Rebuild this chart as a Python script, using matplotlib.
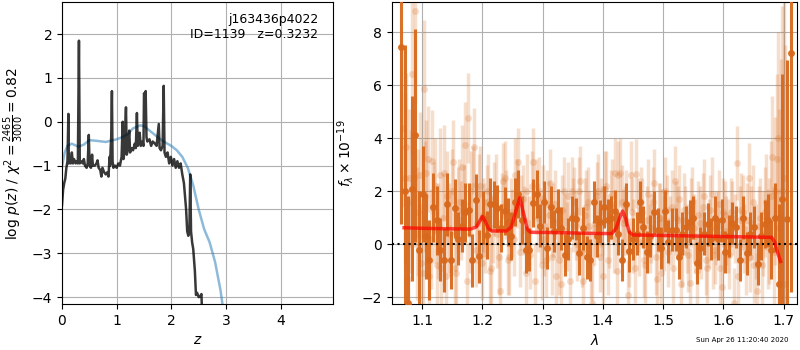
import numpy as np
import matplotlib
matplotlib.use("Agg")
import matplotlib.pyplot as plt

# ---------------- left panel: p(z) ----------------
pz_z = [0.00, 0.02, 0.04, 0.06, 0.08, 0.10, 0.117, 0.125, 0.14, 0.16,
        0.18, 0.20, 0.22, 0.25, 0.27, 0.29, 0.31, 0.325, 0.35, 0.38,
        0.40, 0.42, 0.45, 0.47, 0.49, 0.505, 0.53, 0.55, 0.565, 0.60,
        0.63, 0.65, 0.67, 0.70, 0.72, 0.74, 0.77, 0.80, 0.83, 0.85,
        0.87, 0.88, 0.89, 0.90, 0.913, 0.925, 0.94, 0.97, 1.00, 1.03,
        1.06, 1.09, 1.11, 1.125, 1.14, 1.17, 1.185, 1.20, 1.23, 1.245,
        1.27, 1.30, 1.33, 1.35, 1.37, 1.385, 1.40, 1.42, 1.44, 1.47,
        1.49, 1.50, 1.515, 1.53, 1.545, 1.56, 1.60, 1.63, 1.66, 1.70,
        1.73, 1.77, 1.785, 1.81, 1.84, 1.86, 1.875, 1.90, 1.93, 1.96,
        1.99, 2.02, 2.05, 2.08, 2.11, 2.14, 2.17, 2.20, 2.23, 2.25,
        2.27, 2.29, 2.31, 2.33, 2.345, 2.36, 2.38, 2.40, 2.43, 2.45,
        2.47, 2.50, 2.53, 2.55, 2.56, 2.58]
pz_logp = [-1.90, -1.55, -1.40, -1.30, -1.05, -0.90, 0.18, -0.95, -0.80, -0.95,
           -0.70, -0.95, -0.85, -0.95, -0.90, -0.95, 1.85, -0.95, -0.90, -0.95,
           -0.85, -1.00, -1.05, -0.95, -0.30, -1.00, -1.05, -0.75, -1.00, -1.00,
           -0.95, -0.88, -1.05, -1.10, -1.25, -1.05, -1.15, -1.20, -1.15, -1.25,
           -0.80, -1.00, -0.60, -0.35, 0.70, -0.90, -1.05, -1.00, -1.05, -0.95,
           -1.00, -0.80, 0.00, -0.85, -0.70, 0.33, -0.75, -0.65, -0.20, -0.70,
           -0.60, -0.65, -0.50, -0.60, 0.20, -0.55, -0.45, -0.25, -0.55, -0.45,
           -0.55, 0.65, 0.55, 0.70, -0.35, -0.45, -0.40, -0.55, -0.45, -0.50,
           -0.55, -0.05, -0.60, -0.65, -0.55, 0.82, -0.70, -0.80, -0.70, -0.95,
           -0.80, -1.00, -0.85, -1.05, -0.90, -1.05, -0.95, -1.20, -1.40, -1.70,
           -2.00, -2.50, -2.60, -2.50, -1.20, -2.50, -2.75, -2.90, -3.40, -3.95,
           -3.90, -4.00, -3.98, -3.93, -4.30, -4.40]

prior_z = [0.00, 0.05, 0.10, 0.18, 0.30, 0.40, 0.50, 0.60, 0.80, 0.90,
           1.00, 1.10, 1.20, 1.30, 1.43, 1.50, 1.60, 1.70, 1.80, 1.90,
           2.00, 2.10, 2.20, 2.30, 2.40, 2.50, 2.60, 2.70, 2.80, 2.90,
           2.95]
prior_logp = [-1.02, -0.70, -0.55, -0.50, -0.57, -0.52, -0.42, -0.43, -0.46, -0.43,
              -0.40, -0.35, -0.28, -0.15, -0.08, -0.10, -0.20, -0.30, -0.40, -0.48,
              -0.55, -0.65, -0.80, -1.05, -1.45, -2.00, -2.45, -2.75, -3.20, -3.85,
              -4.30]

label_name = "j163436p4022"
label_id = "ID=1139   z=0.3232"

# ---------------- right panel: spectrum ----------------
dark_wave = [1.065, 1.071, 1.077, 1.083, 1.089, 1.095, 1.101, 1.106, 1.112, 1.118,
             1.124, 1.130, 1.136, 1.142, 1.148, 1.154, 1.160, 1.166, 1.172, 1.177,
             1.183, 1.189, 1.195, 1.201, 1.207, 1.213, 1.219, 1.225, 1.231, 1.237,
             1.243, 1.248, 1.254, 1.260, 1.266, 1.272, 1.278, 1.284, 1.290, 1.296,
             1.302, 1.308, 1.314, 1.319, 1.325, 1.331, 1.337, 1.343, 1.349, 1.355,
             1.361, 1.367, 1.373, 1.379, 1.385, 1.390, 1.396, 1.402, 1.408, 1.414,
             1.420, 1.426, 1.432, 1.438, 1.444, 1.450, 1.456, 1.461, 1.467, 1.473,
             1.479, 1.485, 1.491, 1.497, 1.503, 1.509, 1.515, 1.521, 1.527, 1.532,
             1.538, 1.544, 1.550, 1.556, 1.562, 1.568, 1.574, 1.580, 1.586, 1.592,
             1.598, 1.603, 1.609, 1.615, 1.621, 1.627, 1.633, 1.639, 1.645, 1.651,
             1.657, 1.663, 1.669, 1.674, 1.680, 1.686, 1.692, 1.698, 1.705, 1.713]
dark_flux = [7.45, 2.0, -2.2, 2.1, 4.1, -0.2, 1.9, 0.3, -0.6, 1.4,
             0.9, -0.2, -0.6, 1.5, -0.6, 1.35, 0.2, 0.7, 1.2, 1.3,
             -0.6, 1.65, -0.45, 1.0, 0.35, 1.5, 1.5, 1.35, 0.6, 1.25,
             0.85, 0.3, 1.6, 1.9, 0.9, -0.2, -0.2, 1.55, 1.9, 0.7,
             1.6, -0.15, 1.4, 0.5, 1.3, 0.6, -0.4, 0.2, 1.0, 0.95,
             -0.35, 0.6, -0.5, -0.6, 1.6, 0.3, 0.85, 1.4, 0.9, 1.0,
             1.25, 0.4, -0.6, 1.5, -0.25, 0.2, 0.4, 1.6, 0.65, -0.3,
             0.3, 1.2, 0.55, -0.15, 1.25, 0.1, 0.55, 0.55, -0.5, 0.4,
             0.65, 0.85, 1.0, -0.7, -0.15, 0.4, 0.75, 0.2, 1.0, 0.2,
             0.9, -0.3, 0.3, 0.8, 0.65, -0.6, 1.0, -0.35, 0.4, 0.65,
             -0.75, 0.3, 0.75, 0.9, -0.2, 1.0, -1.5, 1.7, 0.95, 7.2]
dark_err = [6.7, 5.5, 4.0, 3.5, 4.0, 2.2, 1.8, 1.6, 1.5, 1.3,
            1.3, 1.2, 1.2, 1.2, 1.1, 1.1, 1.0, 1.0, 1.1, 1.0,
            1.0, 1.0, 1.0, 1.0, 0.9, 1.0, 0.9, 0.9, 0.9, 0.9,
            0.9, 0.9, 0.9, 0.9, 0.9, 0.9, 0.8, 0.9, 0.9, 0.8,
            0.8, 0.8, 0.8, 0.8, 0.8, 0.8, 0.8, 0.8, 0.8, 0.8,
            0.8, 0.8, 0.8, 0.8, 0.8, 0.8, 0.8, 0.8, 0.8, 0.8,
            0.8, 0.8, 0.8, 0.8, 0.8, 0.8, 0.8, 0.8, 0.8, 0.8,
            0.8, 0.8, 0.8, 0.8, 0.8, 0.8, 0.8, 0.8, 0.8, 0.8,
            0.8, 0.8, 0.8, 0.8, 0.8, 0.8, 0.8, 0.8, 0.8, 0.8,
            0.8, 0.8, 0.8, 0.8, 0.8, 0.8, 0.8, 0.8, 0.8, 0.8,
            0.8, 0.9, 0.9, 1.0, 1.1, 1.3, 3.0, 4.7, 6.0, 9.0]

light_wave = [1.068, 1.073, 1.078, 1.083, 1.088, 1.093, 1.098, 1.103, 1.107, 1.112,
              1.117, 1.122, 1.127, 1.132, 1.137, 1.142, 1.147, 1.152, 1.156, 1.161,
              1.166, 1.171, 1.176, 1.181, 1.186, 1.191, 1.196, 1.201, 1.205, 1.210,
              1.215, 1.220, 1.225, 1.230, 1.235, 1.240, 1.245, 1.250, 1.254, 1.259,
              1.264, 1.269, 1.274, 1.279, 1.284, 1.289, 1.294, 1.299, 1.303, 1.308,
              1.313, 1.318, 1.323, 1.328, 1.333, 1.338, 1.343, 1.348, 1.352, 1.357,
              1.362, 1.367, 1.372, 1.377, 1.382, 1.387, 1.392, 1.397, 1.401, 1.406,
              1.411, 1.416, 1.421, 1.426, 1.431, 1.436, 1.441, 1.446, 1.450, 1.455,
              1.460, 1.465, 1.470, 1.475, 1.480, 1.485, 1.490, 1.495, 1.499, 1.504,
              1.509, 1.514, 1.519, 1.524, 1.529, 1.534, 1.539, 1.544, 1.548, 1.553,
              1.558, 1.563, 1.568, 1.573, 1.578, 1.583, 1.588, 1.593, 1.597, 1.602,
              1.607, 1.612, 1.617, 1.622, 1.627, 1.632, 1.637, 1.642, 1.646, 1.651,
              1.656, 1.661, 1.666, 1.671, 1.676, 1.681, 1.686, 1.691, 1.695, 1.700]
light_flux = [4.4, 3.65, 2.5, 6.4, 8.8, 1.2, -0.7, 5.85, 2.7, -1.2,
              3.15, 2.2, 0.5, -0.9, 2.7, 1.8, 0.4, 3.1, -1.1, 1.6,
              2.9, 3.75, 4.75, 2.0, 3.65, 0.8, 2.2, 1.1, 0.3, 2.0,
              -0.9, 1.7, 0.4, -1.75, 2.4, 1.5, -0.5, 0.8, 2.6, 3.1,
              1.2, 0.9, 2.0, -0.4, 3.1, 1.8, 2.0, -0.8, 0.2, 1.5,
              2.3, 0.9, -1.2, -0.6, 1.3, 0.5, 1.8, 2.0, 1.6, 0.0,
              2.4, -1.4, 1.4, 0.7, -2.2, 0.8, 2.0, 1.2, -1.2, 2.2,
              0.5, 1.9, 2.7, 2.6, 1.6, 0.9, -1.9, 2.6, 0.3, 2.65,
              0.1, 1.2, -0.8, 1.9, 0.6, 2.3, -1.3, 1.0, 0.8, 2.0,
              -0.3, 1.4, 2.4, 0.9, -1.5, 1.3, 0.2, -1.45, 1.6, 0.3,
              1.1, 0.0, 1.8, -0.9, 1.3, -0.4, 0.6, 1.5, -1.6, 1.1,
              0.3, 1.2, -2.2, 3.05, 0.9, 1.2, -0.6, 2.5, 0.8, -0.8,
              -1.75, 1.0, 0.4, 1.6, 0.5, 3.3, 2.0, 4.0, 1.0, 2.5]
light_err = [3.0, 2.8, 2.6, 3.0, 3.5, 2.4, 2.2, 2.6, 2.0, 2.0,
             1.9, 1.8, 1.8, 1.7, 1.8, 1.7, 1.6, 1.6, 1.6, 1.6,
             1.6, 1.6, 1.7, 1.5, 1.5, 1.5, 1.5, 1.4, 1.4, 1.4,
             1.4, 1.4, 1.3, 1.4, 1.4, 1.3, 1.4, 1.3, 1.4, 1.3,
             1.4, 1.3, 1.4, 1.3, 1.3, 1.4, 1.3, 1.3, 1.4, 1.3,
             1.3, 1.4, 1.3, 1.3, 1.3, 1.4, 1.3, 1.3, 1.3, 1.4,
             1.3, 1.3, 1.4, 1.3, 1.3, 1.3, 1.4, 1.3, 1.3, 1.3,
             1.4, 1.3, 1.3, 1.3, 1.4, 1.3, 1.3, 1.3, 1.4, 1.3,
             1.3, 1.3, 1.4, 1.3, 1.3, 1.3, 1.4, 1.3, 1.3, 1.3,
             1.3, 1.4, 1.3, 1.3, 1.3, 1.4, 1.3, 1.3, 1.3, 1.4,
             1.3, 1.3, 1.4, 1.3, 1.3, 1.3, 1.4, 1.3, 1.3, 1.3,
             1.4, 1.3, 1.3, 1.4, 1.3, 1.4, 1.3, 1.3, 1.4, 1.4,
             1.4, 1.5, 1.6, 1.8, 2.0, 2.3, 2.8, 4.0, 6.0, 8.0]

light2_wave = [1.071, 1.076, 1.081, 1.086, 1.091, 1.096, 1.101, 1.105, 1.110, 1.115,
               1.120, 1.125, 1.130, 1.135, 1.140, 1.145, 1.150, 1.154, 1.159, 1.164,
               1.169, 1.174, 1.179, 1.184, 1.189, 1.194, 1.199, 1.203, 1.208, 1.213,
               1.218, 1.223, 1.228, 1.233, 1.238, 1.243, 1.248, 1.252, 1.257, 1.262,
               1.267, 1.272, 1.277, 1.282, 1.287, 1.292, 1.297, 1.301, 1.306, 1.311,
               1.316, 1.321, 1.326, 1.331, 1.336, 1.341, 1.346, 1.350, 1.355, 1.360,
               1.365, 1.370, 1.375, 1.380, 1.385, 1.390, 1.395, 1.399, 1.404, 1.409,
               1.414, 1.419, 1.424, 1.429, 1.434, 1.439, 1.444, 1.448, 1.453, 1.458,
               1.463, 1.468, 1.473, 1.478, 1.483, 1.488, 1.493, 1.497, 1.502, 1.507,
               1.512, 1.517, 1.522, 1.527, 1.532, 1.537, 1.542, 1.546, 1.551, 1.556,
               1.561, 1.566, 1.571, 1.576, 1.581, 1.586, 1.591, 1.595, 1.600, 1.605,
               1.610, 1.615, 1.620, 1.625, 1.630, 1.635, 1.640, 1.644, 1.649, 1.654,
               1.659, 1.664, 1.669, 1.674, 1.679, 1.684, 1.689, 1.693, 1.698, 1.703]
light2_flux = [2.5, -1.3, 1.6, 2.5, 0.4, 2.6, -1.1, 1.8, 3.2, 0.2,
               1.2, -0.8, 2.6, 1.0, -1.2, 0.6, 2.0, -0.9, 1.3, 0.9,
               1.5, -1.4, 0.4, 2.2, -0.2, 1.9, -0.7, 0.9, 1.6, -1.0,
               0.6, 2.0, -0.5, 1.4, 2.5, -0.6, 1.2, 0.2, 1.9, -0.3,
               1.7, -1.1, 0.5, 2.2, -1.4, 1.0, 0.6, 1.7, -0.6, 1.1,
               -0.5, 1.5, 0.8, -1.5, 2.0, 0.3, -1.4, 1.1, 0.7, 2.0,
               -0.3, 1.1, 1.6, -0.8, 0.6, 1.8, -0.5, 0.9, 2.1, -0.6,
               1.5, 0.2, -1.0, 2.7, 0.8, 1.4, -0.3, 1.2, -0.9, 1.1,
               1.6, -0.6, 0.9, 0.2, 1.6, -0.5, 1.0, -1.1, 0.4, 1.3,
               0.5, -0.9, 1.0, 1.7, -0.3, 0.9, -0.4, 1.2, 0.6, -1.0,
               0.8, 1.4, -0.6, 0.4, 1.9, -0.2, 0.7, -0.9, 1.2, 0.5,
               -0.4, 1.0, 0.6, -1.2, 1.3, 0.2, 0.9, -0.5, 1.6, 0.1,
               0.7, -0.8, 1.2, 0.2, 1.8, -0.3, 3.2, 0.6, 2.0, -1.5]
light2_err = [3.2, 2.9, 2.7, 2.6, 2.5, 2.4, 2.2, 2.1, 2.0, 1.9,
              1.9, 1.8, 1.8, 1.7, 1.7, 1.7, 1.6, 1.6, 1.6, 1.5,
              1.5, 1.5, 1.5, 1.5, 1.4, 1.5, 1.4, 1.4, 1.4, 1.4,
              1.3, 1.4, 1.4, 1.3, 1.4, 1.3, 1.3, 1.4, 1.3, 1.3,
              1.3, 1.4, 1.3, 1.3, 1.4, 1.3, 1.3, 1.3, 1.4, 1.3,
              1.4, 1.3, 1.3, 1.4, 1.3, 1.3, 1.3, 1.4, 1.3, 1.3,
              1.3, 1.4, 1.3, 1.3, 1.4, 1.3, 1.3, 1.3, 1.4, 1.3,
              1.3, 1.3, 1.4, 1.3, 1.3, 1.4, 1.3, 1.3, 1.3, 1.4,
              1.3, 1.4, 1.3, 1.3, 1.3, 1.4, 1.3, 1.3, 1.4, 1.3,
              1.3, 1.3, 1.4, 1.3, 1.3, 1.3, 1.4, 1.3, 1.3, 1.3,
              1.4, 1.3, 1.3, 1.3, 1.4, 1.3, 1.3, 1.4, 1.3, 1.3,
              1.3, 1.4, 1.3, 1.3, 1.4, 1.3, 1.4, 1.3, 1.4, 1.4,
              1.5, 1.5, 1.7, 1.9, 2.1, 2.5, 3.2, 4.5, 7.0, 9.0]

model_wave = [1.070, 1.100, 1.150, 1.180, 1.190, 1.195, 1.200, 1.205, 1.210, 1.215,
              1.240, 1.248, 1.255, 1.262, 1.268, 1.275, 1.280, 1.320, 1.380, 1.415,
              1.422, 1.428, 1.433, 1.438, 1.444, 1.450, 1.500, 1.600, 1.680, 1.685,
              1.690, 1.695]
model_flux = [0.62, 0.60, 0.58, 0.57, 0.65, 0.85, 1.05, 0.85, 0.60, 0.50,
              0.50, 0.65, 1.20, 1.75, 1.20, 0.55, 0.45, 0.44, 0.41, 0.40,
              0.60, 1.00, 1.25, 0.95, 0.45, 0.35, 0.33, 0.29, 0.26, 0.10,
              -0.30, -0.65]

timestamp = "Sun Apr 26 11:20:40 2020"

dark_color = "#d8691c"

fig = plt.figure(figsize=(8, 3.5), dpi=100)
ax1 = fig.add_axes([0.0775, 0.131, 0.339, 0.863])
ax2 = fig.add_axes([0.490, 0.131, 0.506, 0.863])

# left panel
ax1.plot(prior_z, prior_logp, color="#1f77b4", alpha=0.5, lw=1.8, zorder=2)
ax1.plot(pz_z, pz_logp, color="k", alpha=0.78, lw=1.8, zorder=3)
ax1.set_xlim(0, 4.96)
ax1.set_ylim(-4.16, 2.73)
ax1.set_xticks([0, 1, 2, 3, 4])
ax1.set_yticks([-4, -3, -2, -1, 0, 1, 2])
ax1.grid(True)
ax1.set_axisbelow(True)
ax1.set_xlabel(r"$z$")
ax1.set_ylabel(r"$\log\,p(z)$ / $\chi^2=\frac{2465}{3000}=0.82$")
ax1.text(0.945, 0.965, label_name + "\n" + label_id, transform=ax1.transAxes,
         ha="right", va="top", fontsize=9)

# right panel
for w, f, e in [(light_wave, light_flux, light_err),
                (light2_wave, light2_flux, light2_err)]:
    ax2.errorbar(w, f, yerr=e, fmt="o", color=dark_color,
                 alpha=0.22, ms=5, elinewidth=2.5, capsize=0, mew=0, zorder=2)
ax2.errorbar(dark_wave, dark_flux, yerr=dark_err, fmt="o", color=dark_color,
             alpha=0.95, ms=5, elinewidth=2.2, capsize=0, mew=0, zorder=3)
ax2.plot(model_wave, model_flux, color="red", alpha=0.7, lw=2.5, zorder=5)
ax2.axhline(0, color="k", ls=":", lw=1.5, zorder=4)
ax2.set_xlim(1.05, 1.722)
ax2.set_ylim(-2.26, 9.13)
ax2.set_xticks([1.1, 1.2, 1.3, 1.4, 1.5, 1.6, 1.7])
ax2.set_yticks([-2, 0, 2, 4, 6, 8])
ax2.grid(True)
ax2.set_axisbelow(True)
ax2.set_xlabel(r"$\lambda$")
ax2.set_ylabel(r"$f_\lambda\times10^{-19}$")

fig.text(0.985, 0.028, timestamp, ha="right", va="center", fontsize=5)

fig.savefig("out.png", dpi=100)
